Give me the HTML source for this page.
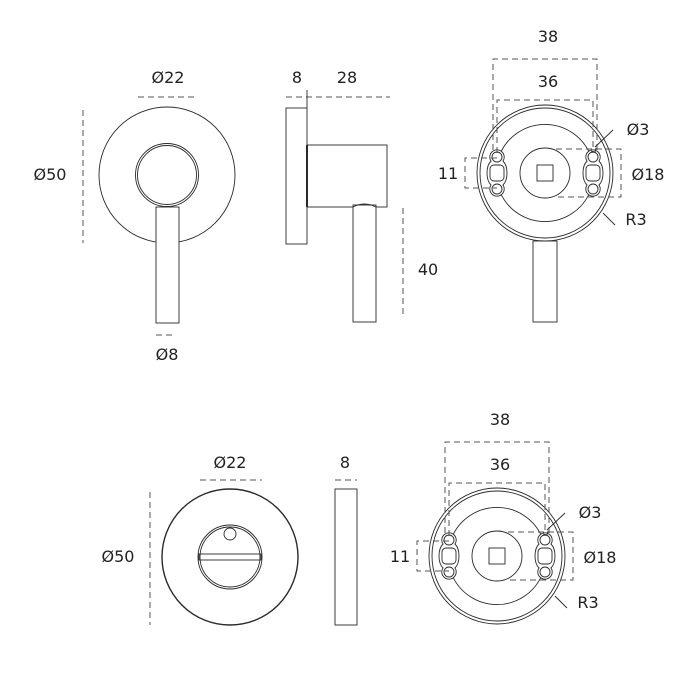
<!DOCTYPE html>
<html><head><meta charset="utf-8"><style>
html,body{margin:0;padding:0;background:#fff;}
svg{display:block;}
text{font-family:"DejaVu Sans","Liberation Sans",sans-serif;font-size:16px;fill:#222;text-anchor:middle;}
.l{fill:none;stroke:#2a2a2a;stroke-width:0.9;}
.d{fill:none;stroke:#555;stroke-width:1;stroke-dasharray:6,4;}
</style></head><body>
<svg width="700" height="700" viewBox="0 0 700 700" xmlns="http://www.w3.org/2000/svg">
<defs>
<g id="back">
  <circle class="l" r="68"/>
  <circle class="l" r="65"/>
  <path class="l" d="M -45,-19 A 49 49 0 0 1 45,-19 M 45,19 A 49 49 0 0 1 -45,19"/>
  <circle class="l" r="25"/>
  <rect class="l" x="-8" y="-8" width="16" height="16"/>
  <g transform="translate(-48,0)">
    <path class="l" style="fill:#fff" d="M 6,-12 Q 10,-8 10,0 Q 10,8 6,12 A 7.2 7.2 0 1 1 -6,12 Q -10,8 -10,0 Q -10,-8 -6,-12 A 7.2 7.2 0 1 1 6,-12 Z"/>
    <circle class="l" cy="-16" r="5"/><circle class="l" cy="16" r="5"/>
    <rect class="l" x="-7" y="-8" width="14" height="16" rx="4"/>
  </g>
  <g transform="translate(48,0)">
    <path class="l" style="fill:#fff" d="M 6,-12 Q 10,-8 10,0 Q 10,8 6,12 A 7.2 7.2 0 1 1 -6,12 Q -10,8 -10,0 Q -10,-8 -6,-12 A 7.2 7.2 0 1 1 6,-12 Z"/>
    <circle class="l" cy="-16" r="5"/><circle class="l" cy="16" r="5"/>
    <rect class="l" x="-7" y="-8" width="14" height="16" rx="4"/>
  </g>
  <path class="d" d="M -52,-23 V -114 H 52 V -23"/>
  <path class="d" d="M -48,-20 V -73 H 48 V -20"/>
  <path class="d" d="M -48,-15 H -80 V 15 H -48"/>
  <path class="d" d="M 11,-24 H 76 V 24 H 11"/>
  <path class="l" d="M 50,-26 L 68,-43 M 50,-21 l -4,-1 M 50,-21 l 1,-4"/>
  <path class="l" d="M 58,40 L 70,52"/>
  <text x="3" y="-131">38</text>
  <text x="3" y="-86">36</text>
  <text x="93" y="-38">Ø3</text>
  <text x="103" y="7">Ø18</text>
  <text x="91" y="52">R3</text>
  <text x="-97" y="6">11</text>
</g>
</defs>

<circle class="l" cx="167" cy="175" r="68"/>
<circle class="l" cx="167" cy="175" r="31.5"/>
<circle class="l" cx="167" cy="175" r="29.5"/>
<rect class="l" x="156" y="207" width="23" height="116" style="fill:#fff"/>
<path class="d" d="M138,97 H198 M83,110 V243 M156,335 H176"/>
<text x="168" y="83">Ø22</text>
<text x="50" y="180">Ø50</text>
<text x="167" y="360">Ø8</text>

<rect class="l" x="286" y="108" width="21" height="136"/>
<rect class="l" x="307" y="145" width="80" height="62"/>
<path class="l" d="M307,145 V207" style="stroke-width:2"/>
<rect class="l" x="353" y="205" width="23" height="117" style="fill:#fff"/>
<path class="l" d="M353,207 Q364,201 376,207"/>
<path class="d" d="M286,97 H390 M403,208 V318"/>
<path class="l" d="M307,90 V108"/>
<text x="297" y="83">8</text>
<text x="347" y="83">28</text>
<text x="428" y="275">40</text>

<rect class="l" x="533" y="241" width="24" height="81"/>
<use href="#back" x="545" y="173"/>

<circle class="l" cx="230" cy="557" r="68" style="stroke-width:1.4"/>
<circle class="l" cx="230" cy="557" r="32"/>
<circle class="l" cx="230" cy="557" r="30"/>
<rect class="l" x="199" y="554" width="62" height="6"/>
<circle class="l" cx="230" cy="534" r="6"/>
<path class="d" d="M200,480 H262 M150,492 V625 M335,480 H357"/>
<text x="230" y="468">Ø22</text>
<text x="118" y="562">Ø50</text>
<rect class="l" x="335" y="489" width="22" height="136"/>
<text x="345" y="468">8</text>

<use href="#back" x="497" y="556"/>
</svg>
</body></html>
